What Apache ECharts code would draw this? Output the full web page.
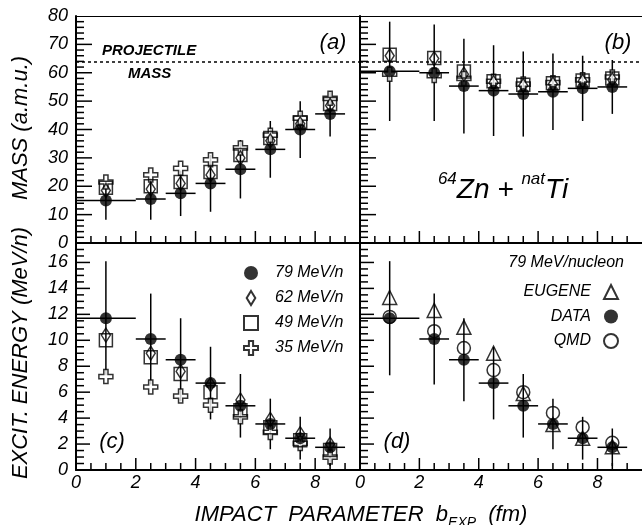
<!DOCTYPE html>
<html>
<head>
<meta charset="utf-8">
<script src="https://cdn.jsdelivr.net/npm/echarts@6/dist/echarts.min.js"></script>
<style>
  html, body { margin: 0; padding: 0; background: #fff; }
  #chart { width: 642px; height: 525px; }
</style>
</head>
<body>
<div id="chart"></div>
<script>
// impact parameter bins (fm)
const bCenter = [1.0, 2.5, 3.5, 4.5, 5.5, 6.5, 7.5, 8.5];
const bLow = [0, 2, 3, 4, 5, 6, 7, 8];
const bHigh = [2, 3, 4, 5, 6, 7, 8, 9];

const projectileMass = 64;

// panel (a) mass
const massA79 = [15, 15.5, 17.5, 21, 26, 33, 40, 45.5];
const massA79Err = [6.8, 7.3, 8, 10, 10.3, 10, 10, 8];
const massA62 = [18.5, 19, 21, 24, 30, 36, 42, 48.5];
const massA49 = [19.5, 20, 21.5, 25, 31, 37, 42.5, 49];
const massA35 = [21.5, 24, 26.3, 29.3, 33.5, 38, 44, 51];

// panel (b) mass
const massB79 = [60.5, 60, 55.3, 53.7, 52.5, 53.3, 54.5, 55];
const massB79Err = [17.5, 17, 16.7, 16, 15, 13.5, 11.5, 9.5];
const massB62 = [66, 65, 59.5, 56.5, 55.5, 56, 57, 57.5];
const massB49 = [66.3, 65.2, 60.4, 57, 55.8, 56.3, 57.3, 58];
const massB35 = [59.5, 59, 58, 57, 56, 56.5, 57.5, 58.5];

// panels (c), (d) excitation energy (MeV/n)
const excit79 = [11.7, 10.1, 8.5, 6.7, 4.95, 3.55, 2.45, 1.75];
const excit79Err = [4.4, 3.5, 3.2, 2.8, 2.45, 1.95, 1.65, 1.45];
const excit62 = [10.4, 9.0, 7.6, 6.6, 5.4, 3.9, 2.8, 2.0];
const excit49 = [10.0, 8.7, 7.4, 6.0, 4.6, 3.3, 2.3, 1.55];
const excit35 = [7.2, 6.4, 5.7, 5.0, 4.1, 2.9, 2.05, 1.0];
const excitEugene = [13.3, 12.3, 11.0, 9.0, 5.9, 3.5, 2.45, 1.8];
const excitQmd = [11.8, 10.7, 9.4, 7.7, 6.0, 4.4, 3.3, 2.1];

// [min, max, interval, minor splits]
const bTicks = [0, 9.5, 2, 4];
const massTicks = [0, 80, 10, 5];
const excitTicks = [0, 17.5, 2, 4];

const FONT = '"Liberation Sans", Arial, sans-serif';
const CROSS = 'path://M3.5,0H6.5V3.5H10V6.5H6.5V10H3.5V6.5H0V3.5H3.5Z';
const DIAMOND = 'path://M4,0L8,6.5L4,13L0,6.5Z';
const HOLLOW = 'rgba(255,255,255,0)';

function pairs(ys) {
  return bCenter.map((b, i) => [b, ys[i]]);
}

function errData(ys, errs) {
  return bCenter.map((b, i) => [b, ys[i], bLow[i], bHigh[i], errs[i]]);
}

function renderErr(params, api) {
  let x = api.value(0), y = api.value(1), e = api.value(4);
  let top = api.coord([x, y + e]);
  let bot = api.coord([x, y - e]);
  let l = api.coord([api.value(2), y]);
  let r = api.coord([api.value(3), y]);
  let style = { stroke: '#000', lineWidth: 1.5 };
  return {
    type: 'group',
    children: [
      { type: 'line', shape: { x1: top[0], y1: top[1], x2: bot[0], y2: bot[1] }, style: style },
      { type: 'line', shape: { x1: l[0], y1: l[1], x2: r[0], y2: r[1] }, style: style }
    ]
  };
}

function errSeries(g, ys, errs) {
  return {
    type: 'custom', xAxisIndex: g, yAxisIndex: g, silent: true,
    encode: { x: 0, y: 1 },
    renderItem: renderErr, data: errData(ys, errs)
  };
}

// inward frame ticks: rows [x, y, dx px, dy px], anchored on the axis lines
function tickRows(t, isX, otherMin, majorLen, minorLen) {
  let rows = [];
  let step = t[2] / t[3];
  for (let k = 1; t[0] + k * step < t[1] - 1e-9; k++) {
    let v = +(t[0] + k * step).toFixed(6);
    let len = k % t[3] === 0 ? majorLen : minorLen;
    rows.push(isX ? [v, otherMin, 0, -len] : [otherMin, v, len, 0]);
  }
  return rows;
}

const kinds = {
  filled: { symbol: 'circle', symbolSize: 12, itemStyle: { color: '#000' } },
  diamond: { symbol: DIAMOND, symbolSize: [9, 14], itemStyle: { color: HOLLOW, borderColor: '#000', borderWidth: 1.5 } },
  square: { symbol: 'rect', symbolSize: 13, itemStyle: { color: HOLLOW, borderColor: '#000', borderWidth: 1.5 } },
  cross: { symbol: CROSS, symbolSize: 14, itemStyle: { color: '#fff', borderColor: '#000', borderWidth: 1.5 } },
  triangle: { symbol: 'triangle', symbolSize: 14, itemStyle: { color: HOLLOW, borderColor: '#000', borderWidth: 1.5 } },
  ring: { symbol: 'circle', symbolSize: 13, itemStyle: { color: HOLLOW, borderColor: '#000', borderWidth: 1.5 } }
};

function pts(g, name, ys, kind) {
  let k = kinds[kind];
  return {
    type: 'scatter', name: name, xAxisIndex: g, yAxisIndex: g, silent: true,
    symbol: k.symbol, symbolSize: k.symbolSize, itemStyle: k.itemStyle,
    data: pairs(ys)
  };
}

// dotted projectile-mass line, plus the thin frame line along the top of (a)/(b)
function projLine(s) {
  s.markLine = {
    silent: true, symbol: 'none', label: { show: false },
    lineStyle: { color: '#000', type: [3, 3], width: 1.5 },
    data: [
      { yAxis: projectileMass },
      { yAxis: massTicks[1], lineStyle: { type: 'solid', width: 1, color: '#000' } }
    ]
  };
  return s;
}

const grids = [
  { left: 76, top: 16, width: 284, height: 227 },
  { left: 360, top: 16, width: 285, height: 227 },
  { left: 76, top: 243, width: 284, height: 227 },
  { left: 360, top: 243, width: 285, height: 227 }
];

const tickFont = { fontFamily: FONT, fontStyle: 'italic', fontSize: 18, color: '#000' };

function makeAxis(g, t, showLabel, margin, showMax) {
  return {
    type: 'value', gridIndex: g, min: t[0], max: t[1], interval: t[2],
    axisLine: { show: true, lineStyle: { color: '#000', width: 2 } },
    axisTick: { show: false },
    splitLine: { show: false },
    axisLabel: Object.assign({ show: showLabel, margin: margin, showMaxLabel: showMax }, tickFont)
  };
}

const xAxes = [0, 1, 2, 3].map(g => makeAxis(g, bTicks, g >= 2, 4, false));
const yAxes = [0, 1, 2, 3].map(g => g < 2
  ? makeAxis(g, massTicks, g === 0, 8, true)
  : makeAxis(g, excitTicks, g === 2, 8, false));

const series = [
  // (a)
  errSeries(0, massA79, massA79Err),
  projLine(pts(0, '35 MeV/n', massA35, 'cross')),
  pts(0, '49 MeV/n', massA49, 'square'),
  pts(0, '62 MeV/n', massA62, 'diamond'),
  pts(0, '79 MeV/n', massA79, 'filled'),
  // (b)
  errSeries(1, massB79, massB79Err),
  projLine(pts(1, '35 MeV/n', massB35, 'cross')),
  pts(1, '49 MeV/n', massB49, 'square'),
  pts(1, '62 MeV/n', massB62, 'diamond'),
  pts(1, '79 MeV/n', massB79, 'filled'),
  // (c)
  errSeries(2, excit79, excit79Err),
  pts(2, '35 MeV/n', excit35, 'cross'),
  pts(2, '49 MeV/n', excit49, 'square'),
  pts(2, '62 MeV/n', excit62, 'diamond'),
  pts(2, '79 MeV/n', excit79, 'filled'),
  // (d)
  errSeries(3, excit79, excit79Err),
  pts(3, 'QMD', excitQmd, 'ring'),
  pts(3, 'EUGENE', excitEugene, 'triangle'),
  pts(3, 'DATA', excit79, 'filled')
];

const legendText = { fontFamily: FONT, fontStyle: 'italic', fontSize: 16, color: '#000' };

function label(text, x, y, size, extra) {
  return {
    type: 'text', x: x, y: y, silent: true,
    style: Object.assign({
      text: text, fill: '#000', font: 'italic ' + size + 'px ' + FONT,
      textAlign: 'center', textVerticalAlign: 'middle'
    }, extra || {})
  };
}

const texts = [
  label('(a)', 333, 43, 22),
  label('(b)', 618, 43, 22),
  label('(c)', 112, 442, 22),
  label('(d)', 397, 442, 22),
  label('PROJECTILE', 102, 51, 15, { textAlign: 'left', font: 'italic bold 15px ' + FONT }),
  label('MASS', 128, 74, 15, { textAlign: 'left', font: 'italic bold 15px ' + FONT }),
  label('79 MeV/nucleon', 624, 263, 16, { textAlign: 'right' }),
  {
    type: 'text', x: 503, y: 190, silent: true,
    style: {
      text: '{sup|64}{m|Zn + }{sup|nat}{m|Ti}',
      textAlign: 'center', textVerticalAlign: 'middle', fill: '#000',
      rich: {
        m: { fontFamily: FONT, fontStyle: 'italic', fontSize: 28, lineHeight: 38, verticalAlign: 'middle' },
        sup: { fontFamily: FONT, fontStyle: 'italic', fontSize: 17, lineHeight: 17, verticalAlign: 'top' }
      }
    }
  },
  Object.assign(label('MASS (a.m.u.)', 21, 128, 22), { rotation: Math.PI / 2 }),
  Object.assign(label('EXCIT. ENERGY (MeV/n)', 21, 353, 22), { rotation: Math.PI / 2 }),
  {
    type: 'text', x: 361, y: 515, silent: true,
    style: {
      text: '{m|IMPACT  PARAMETER  b}{s|EXP}{m|  (fm)}',
      textAlign: 'center', textVerticalAlign: 'middle', fill: '#000',
      rich: {
        m: { fontFamily: FONT, fontStyle: 'italic', fontSize: 22, lineHeight: 30, verticalAlign: 'middle' },
        s: { fontFamily: FONT, fontStyle: 'italic', fontSize: 14, lineHeight: 14, verticalAlign: 'bottom' }
      }
    }
  }
];

const option = {
  animation: false,
  grid: grids,
  xAxis: xAxes,
  yAxis: yAxes,
  legend: [
    {
      data: ['79 MeV/n', '62 MeV/n', '49 MeV/n', '35 MeV/n'],
      orient: 'vertical', left: 238, top: 260, itemGap: 9,
      itemWidth: 14, itemHeight: 14, selectedMode: false,
      textStyle: Object.assign({ padding: [0, 0, 0, 12] }, legendText)
    },
    {
      data: ['EUGENE', 'DATA', 'QMD'],
      orient: 'vertical', align: 'right', right: 18, top: 279, itemGap: 8.5,
      itemWidth: 14, itemHeight: 14, selectedMode: false,
      textStyle: Object.assign({ padding: [0, 8, 0, 0] }, legendText)
    }
  ],
  graphic: texts,
  series: series
};

const chart = echarts.init(document.getElementById('chart'));
chart.setOption(option);

// frame ticks placed through each grid's own scales once the layout exists
const tickLines = [];
[0, 1, 2, 3].forEach(g => {
  let yt = g < 2 ? massTicks : excitTicks;
  let rows = tickRows(bTicks, true, yt[0], 12, 7)
    .concat(tickRows(yt, false, bTicks[0], g < 2 ? 16 : 14, 8));
  rows.forEach(r => {
    let p = chart.convertToPixel({ gridIndex: g }, [r[0], r[1]]);
    tickLines.push({
      type: 'line', silent: true, z: 100,
      shape: { x1: p[0], y1: p[1], x2: p[0] + r[2], y2: p[1] + r[3] },
      style: { stroke: '#000', lineWidth: 1.5 }
    });
  });
});
chart.setOption({ graphic: texts.concat(tickLines) });
</script>
</body>
</html>
